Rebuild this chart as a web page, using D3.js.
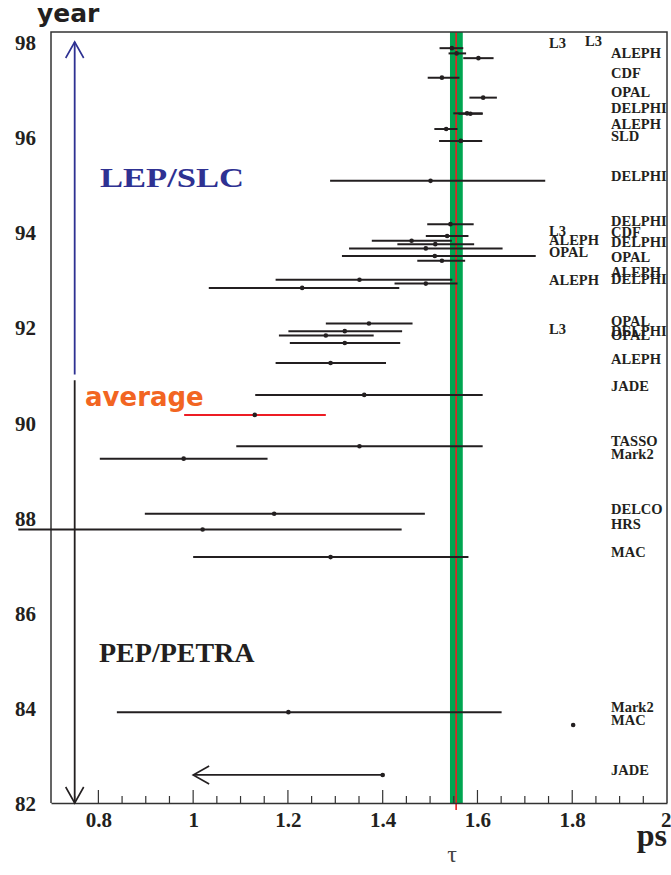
<!DOCTYPE html>
<html><head><meta charset="utf-8">
<script src="https://cdn.jsdelivr.net/npm/d3@7/dist/d3.min.js"></script>
<style>html,body{margin:0;padding:0;background:#fff;}svg{display:block;}</style>
</head><body>
<svg id="chart" width="671" height="875"></svg>
<script>
// ---- data (year of measurement, lifetime tau in ps, error bar ends) ----
const years = [97.87, 97.76, 97.66, 97.25, 96.83, 96.50, 96.49, 96.17, 95.92, 95.08,
               94.17, 93.92, 93.82, 93.75, 93.66, 93.50, 93.40, 93.00, 92.92, 92.83,
               92.08, 91.92, 91.83, 91.67, 91.25, 90.58, 89.50, 89.24, 88.08, 87.75,
               87.17, 83.91, 83.64];
const tau   = [1.546, 1.556, 1.602, 1.525, 1.612, 1.578, 1.585, 1.534, 1.565, 1.501,
               1.543, 1.536, 1.461, 1.511, 1.491, 1.510, 1.525, 1.351, 1.491, 1.230,
               1.371, 1.320, 1.280, 1.320, 1.290, 1.361, 1.351, 0.980, 1.171, 1.020,
               1.290, 1.201, 1.802];
const tauLo = [1.520, 1.539, 1.570, 1.495, 1.583, 1.549, 1.560, 1.509, 1.519, 1.289,
               1.494, 1.491, 1.377, 1.431, 1.329, 1.314, 1.473, 1.174, 1.425, 1.033,
               1.280, 1.201, 1.181, 1.204, 1.174, 1.131, 1.091, 0.803, 0.898, 0.631,
               1.000, 0.839, 1.802];
const tauHi = [1.570, 1.576, 1.634, 1.562, 1.641, 1.611, 1.611, 1.558, 1.610, 1.743,
               1.592, 1.581, 1.546, 1.593, 1.653, 1.723, 1.574, 1.547, 1.558, 1.435,
               1.463, 1.441, 1.381, 1.437, 1.407, 1.611, 1.611, 1.157, 1.489, 1.440,
               1.581, 1.651, 1.802];

// historical average
const avgYear = 90.16, avgTau = 1.130, avgLo = 0.981, avgHi = 1.280;
// JADE upper limit (arrow)
const limitYear = 82.59, limitTau = 1.40, limitArrowTo = 1.00;
// current world average band
const worldAvg = 1.555, worldLo = 1.542, worldHi = 1.569;

// experiment labels: [text, year, column]
const labelText = ["L3","L3","ALEPH","CDF","OPAL","DELPHI","ALEPH","SLD","DELPHI",
  "DELPHI","L3","CDF","ALEPH","DELPHI","OPAL","OPAL","ALEPH","ALEPH","DELPHI",
  "OPAL","L3","DELPHI","OPAL","ALEPH","JADE","TASSO","Mark2","DELCO","HRS","MAC",
  "Mark2","MAC","JADE"];
const labelYear = [97.87,97.92,97.66,97.24,96.85,96.50,96.17,95.92,95.085,
  94.134,93.918,93.897,93.737,93.699,93.482,93.373,93.068,92.881,92.902,
  92.032,91.851,91.815,91.741,91.235,90.654,89.50,89.239,88.077,87.755,87.166,
  83.913,83.64,82.589];
const labelCol = [1,0,2,2,2,2,2,2,2, 2,1,2,1,2,1,2,2,1,2, 2,1,2,2,2,2,2,2,2,2,2, 2,2,2];

const xTickValues = [0.8, 1.0, 1.2, 1.4, 1.6, 1.8, 2.0];
const yTickValues = [82, 84, 86, 88, 90, 92, 94, 96, 98];

// ---- drawing ----
const svg = d3.select("#chart");
const L = 51, R = 667, T = 32, B = 803;
const x = d3.scaleLinear().domain([0.7, 2.0]).range([L, R]);
const y = d3.scaleLinear().domain([82, 98.21]).range([B, T]);

const serif = "'Liberation Serif','Times New Roman',serif";
const ink = "#231f20";
const blue = "#2e3192";

// world average band
svg.append("rect").attr("x", x(worldLo)).attr("y", T)
  .attr("width", x(worldHi) - x(worldLo)).attr("height", B - T)
  .attr("fill", "#00a651");
svg.append("line").attr("x1", x(worldAvg)).attr("x2", x(worldAvg))
  .attr("y1", T).attr("y2", B + 7).attr("stroke", "#ed1c24").attr("stroke-width", 1.6);

// frame
svg.append("path")
  .attr("d", `M${L},${B}V${T}H${R}V${B}`)
  .attr("fill", "none").attr("stroke", "#333").attr("stroke-width", 1.5);

// x axis
const xAxis = d3.axisBottom(x).tickValues(xTickValues)
  .tickFormat(d => d === 1 || d === 2 ? d3.format("d")(d) : d3.format(".1f")(d))
  .tickSize(0).tickPadding(0);
const gx = svg.append("g").attr("transform", `translate(0,${B})`).call(xAxis);
gx.select(".domain").attr("stroke", "#333").attr("stroke-width", 1.5);
gx.selectAll("text").attr("font-family", serif).attr("font-weight", "bold")
  .attr("font-size", 21).attr("fill", ink).attr("dy", "1.15em")
  .attr("text-anchor", d => d === 2 ? "end" : "middle")
  .attr("x", d => d === 2 ? 4 : 0);
// tick marks pointing inward
const minor = d3.range(0.75, 2.0, 0.05).map(v => +v.toFixed(2));
svg.append("g").selectAll("line").data(minor).join("line")
  .attr("x1", d => x(d)).attr("x2", d => x(d))
  .attr("y1", B).attr("y2", d => xTickValues.some(t => Math.abs(t - d) < 1e-6) ? B - 13 : B - 7)
  .attr("stroke", "#333").attr("stroke-width", 1.2);

// y axis
const yAxis = d3.axisLeft(y).tickValues(yTickValues).tickSize(0).tickPadding(0);
const gy = svg.append("g").attr("transform", `translate(${L},0)`).call(yAxis);
gy.select(".domain").remove();
gy.selectAll("text").attr("font-family", serif).attr("font-weight", "bold")
  .attr("font-size", 21).attr("fill", ink).attr("x", -15).attr("dy", "0.36em");

// axis titles
svg.append("text").attr("x", 37).attr("y", 22).text("year")
  .attr("font-family", "'DejaVu Sans',sans-serif").attr("font-weight", "bold")
  .attr("font-size", 25).attr("fill", ink);
svg.append("text").attr("x", 667).attr("y", 846).attr("text-anchor", "end").text("ps")
  .attr("font-family", serif).attr("font-weight", "bold").attr("font-size", 32).attr("fill", ink);
svg.append("text").attr("x", 452).attr("y", 862).attr("text-anchor", "middle").text("τ")
  .attr("font-family", serif).attr("font-size", 24).attr("fill", "#444");

// era arrows
function arrowHead(g, tx, ty, dx, dy, color) {
  // open V arrow head at tip (tx,ty) pointing in direction (dx,dy)
  const len = 16, half = 9;
  const px = -dy, py = dx;
  g.append("path")
    .attr("d", `M${tx - dx*len + px*half},${ty - dy*len + py*half}L${tx},${ty}L${tx - dx*len - px*half},${ty - dy*len - py*half}`)
    .attr("fill", "none").attr("stroke", color).attr("stroke-width", 1.6);
}
const arrows = svg.append("g");
arrows.append("line").attr("x1", x(0.75)).attr("x2", x(0.75))
  .attr("y1", y(91.01)).attr("y2", y(98.0)).attr("stroke", blue).attr("stroke-width", 1.8);
arrowHead(arrows, x(0.75), y(98.0), 0, -1, blue);
arrows.append("line").attr("x1", x(0.75)).attr("x2", x(0.75))
  .attr("y1", y(90.89)).attr("y2", y(82)).attr("stroke", ink).attr("stroke-width", 1.8);
arrowHead(arrows, x(0.75), y(82), 0, 1, ink);

// era labels
svg.append("text").attr("x", 100).attr("y", 187).text("LEP/SLC")
  .attr("font-family", serif).attr("font-weight", "bold").attr("font-size", 28)
  .attr("fill", blue).attr("textLength", 144).attr("lengthAdjust", "spacingAndGlyphs");
svg.append("text").attr("x", 99).attr("y", 662).text("PEP/PETRA")
  .attr("font-family", serif).attr("font-weight", "bold").attr("font-size", 28)
  .attr("fill", ink);
svg.append("text").attr("x", 85).attr("y", 406).text("average")
  .attr("font-family", "'DejaVu Sans',sans-serif").attr("font-weight", "bold")
  .attr("font-size", 26).attr("fill", "#f26522");

// measurements
const rows = years.map((yr, i) => ({yr, t: tau[i], lo: tauLo[i], hi: tauHi[i]}));
const gm = svg.append("g");
gm.selectAll("line").data(rows.filter(d => d.hi > d.lo)).join("line")
  .attr("x1", d => x(d.lo)).attr("x2", d => x(d.hi))
  .attr("y1", d => y(d.yr)).attr("y2", d => y(d.yr))
  .attr("stroke", ink).attr("stroke-width", 2);
gm.selectAll("circle").data(rows).join("circle")
  .attr("cx", d => x(d.t)).attr("cy", d => y(d.yr)).attr("r", 2.3).attr("fill", ink);

// average
svg.append("line").attr("x1", x(avgLo)).attr("x2", x(avgHi))
  .attr("y1", y(avgYear)).attr("y2", y(avgYear)).attr("stroke", "#ed1c24").attr("stroke-width", 2);
svg.append("circle").attr("cx", x(avgTau)).attr("cy", y(avgYear)).attr("r", 2.3).attr("fill", ink);

// JADE limit
svg.append("line").attr("x1", x(limitTau)).attr("x2", x(limitArrowTo))
  .attr("y1", y(limitYear)).attr("y2", y(limitYear)).attr("stroke", ink).attr("stroke-width", 1.8);
arrowHead(svg, x(limitArrowTo), y(limitYear), -1, 0, ink);
svg.append("circle").attr("cx", x(limitTau)).attr("cy", y(limitYear)).attr("r", 2.3).attr("fill", ink);

// experiment labels
const colX = [585, 549, 611];
svg.append("g").selectAll("text").data(labelText).join("text")
  .attr("x", (d, i) => colX[labelCol[i]])
  .attr("y", (d, i) => y(labelYear[i]))
  .text(d => d)
  .attr("font-family", serif).attr("font-weight", "bold").attr("font-size", 14.5)
  .attr("fill", ink);
</script>
</body></html>
